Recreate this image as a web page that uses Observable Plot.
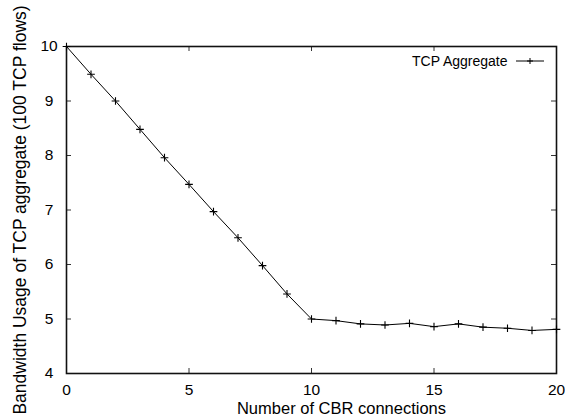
<!DOCTYPE html>
<html>
<head>
<meta charset="utf-8">
<script src="https://cdn.jsdelivr.net/npm/d3@7"></script>
<script src="https://cdn.jsdelivr.net/npm/@observablehq/plot@0.6"></script>
<style>
  html, body { margin: 0; padding: 0; background: #fff; }
  #chart svg { display: block; }
</style>
</head>
<body>
<div id="chart"></div>
<script>
// Bandwidth used by the aggregate of 100 TCP flows as CBR connections are added
const connections = [0, 1, 2, 3, 4, 5, 6, 7, 8, 9, 10, 11, 12, 13, 14, 15, 16, 17, 18, 19, 20];
const bandwidth = [10.0, 9.49, 9.0, 8.48, 7.96, 7.47, 6.97, 6.49, 5.98, 5.46, 5.0,
                   4.97, 4.91, 4.89, 4.92, 4.86, 4.91, 4.85, 4.83, 4.79, 4.81];
const xTicks = [0, 5, 10, 15, 20];
const yTicks = [4, 5, 6, 7, 8, 9, 10];
const seriesName = "TCP Aggregate";
const xLabel = "Number of CBR connections";
const yLabel = "Bandwidth Usage of TCP aggregate (100 TCP flows)";

const rows = connections.map((c, i) => ({connections: c, bandwidth: bandwidth[i]}));

const W = 565, H = 420;
const margin = {top: 46, right: 9, bottom: 47, left: 66};
const innerW = W - margin.left - margin.right;
const innerH = H - margin.top - margin.bottom;
const tickLen = 5;
const font = "'Liberation Sans', Arial, Helvetica, sans-serif";

// Short line with a plus marker, used as the key sample
function keySample(index, scales, values, dimensions) {
  const {width, marginRight, marginTop} = dimensions;
  const x2 = width - marginRight - 12, x1 = x2 - 28, y = marginTop + 15;
  const g = d3.create("svg:g").attr("stroke", "#000").attr("fill", "none");
  g.append("line").attr("x1", x1).attr("x2", x2).attr("y1", y).attr("y2", y).attr("stroke-width", 1);
  const xm = (x1 + x2) / 2;
  g.append("path").attr("d", `M${xm - 3},${y}H${xm + 3}M${xm},${y - 3}V${y + 3}`).attr("stroke-width", 1);
  return g.node();
}

const chart = Plot.plot({
  width: W,
  height: H,
  marginTop: margin.top,
  marginRight: margin.right,
  marginBottom: margin.bottom,
  marginLeft: margin.left,
  style: {fontFamily: font, fontSize: "15.5px", color: "#000", background: "#fff"},
  x: {domain: [0, 20], label: null},
  y: {domain: [4, 10], label: null},
  marks: [
    // inward ticks on all four sides
    Plot.ruleX(xTicks, {x: d => d, insetTop: innerH - tickLen, stroke: "#333", strokeWidth: 1}),
    Plot.ruleX(xTicks, {x: d => d, insetBottom: innerH - tickLen, stroke: "#333", strokeWidth: 1}),
    Plot.ruleY(yTicks, {y: d => d, insetRight: innerW - tickLen, stroke: "#333", strokeWidth: 1}),
    Plot.ruleY(yTicks, {y: d => d, insetLeft: innerW - tickLen, stroke: "#333", strokeWidth: 1}),
    Plot.axisX(xTicks, {anchor: "bottom", tickSize: 0, tickPadding: 10, tickFormat: d3.format("d"), fontSize: 15.5, label: null}),
    Plot.axisY(yTicks, {anchor: "left", tickSize: 0, tickPadding: 17.5, tickFormat: d3.format("d"), textAnchor: "middle", fontSize: 15.5, label: null}),
    Plot.frame({stroke: "#111", strokeWidth: 1.6}),
    Plot.line(rows, {x: "connections", y: "bandwidth", stroke: "#000", strokeWidth: 1}),
    Plot.dot(rows, {x: "connections", y: "bandwidth", symbol: "plus", r: 2.6, stroke: "#000", strokeWidth: 1.1}),
    // axis titles
    Plot.text([xLabel], {frameAnchor: "bottom", text: d => d, dx: 30, dy: 35.7, textAnchor: "middle", lineAnchor: "middle", fontSize: 16.5, fill: "#000"}),
    Plot.text([yLabel], {frameAnchor: "left", text: d => d, rotate: -90, dx: -46.6, textAnchor: "middle", lineAnchor: "middle", fontSize: 17.5, fill: "#000"}),
    // key
    Plot.text([seriesName], {frameAnchor: "top-right", text: d => d, dx: -49, dy: 15, textAnchor: "end", lineAnchor: "middle", fontSize: 14, fill: "#000"}),
    keySample
  ]
});

document.getElementById("chart").append(chart);
</script>
</body>
</html>
